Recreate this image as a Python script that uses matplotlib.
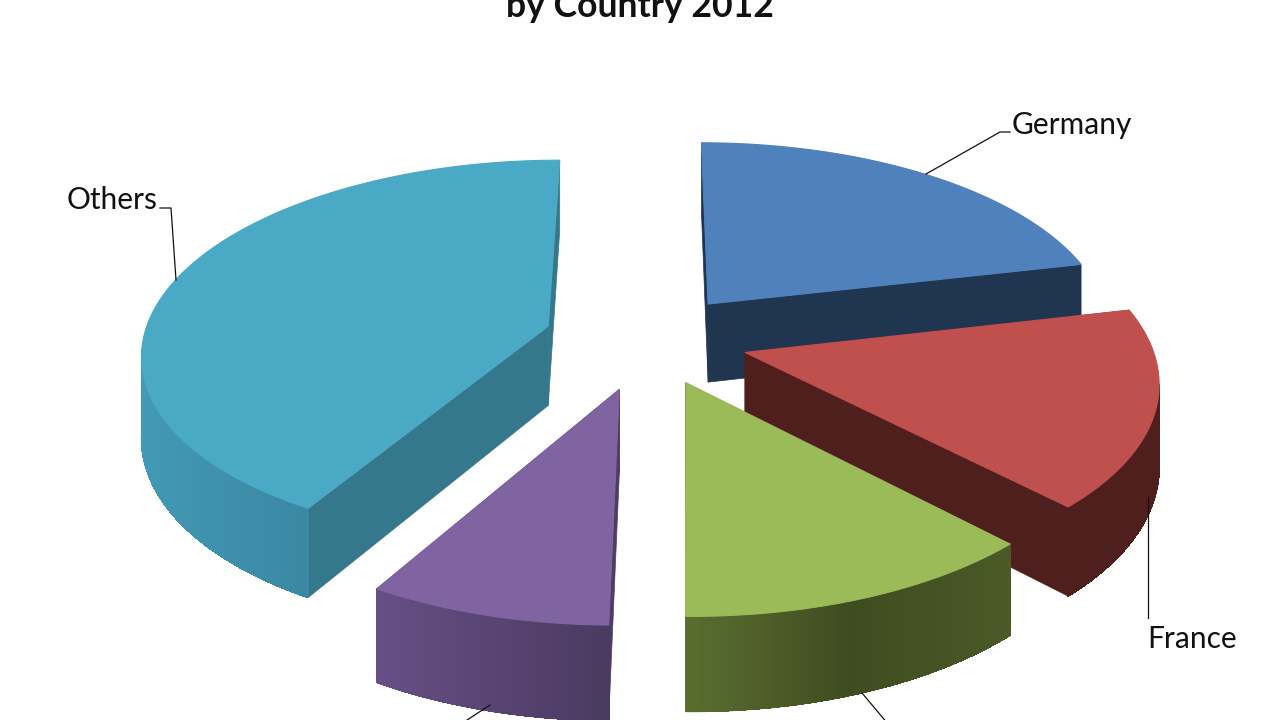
import numpy as np
import matplotlib
matplotlib.use("Agg")
import matplotlib.pyplot as plt
from matplotlib.collections import LineCollection, PolyCollection

# --- slices (share of the full circle, %) ---
labels = ["Germany", "France", "", "", "Others"]
shares = [21.4, 16.4, 12.4, 8.2, 41.6]
top_colors = ["#4f81bd", "#c0504d", "#9bbb59", "#8064a2", "#4aa9c5"]
inner_colors = ["#1f3550", "#4f1f1d", "#3f4c22", "#4f3c65", "#35788c"]
explode = [0.24, 0.245, 0.24, 0.265, 0.26]

# outer wall colour stops, by screen x
wall_x = [
    [700, 1100],
    [740, 1160],
    [684, 850, 1014],
    [376, 608],
    [140, 230, 316],
]
wall_rgb = [
    ["#1f3550", "#1f3550"],
    ["#4f1f1d", "#4f1f1d"],
    ["#5a6e30", "#3f4c20", "#4a5a28"],
    ["#664f85", "#4a3a60"],
    ["#429ab5", "#3e8fab", "#3a87a2"],
]

# --- projection of the tilted pie ---
CX, CY = 649, 339
RX, RY = 405, 190.7
PERSP = 0.13
DEPTH = 80
START = 0.0
draw_order = [0, 4, 1, 3, 2]


def project(wx, wy, z=0.0):
    s = 1.0 / (1.0 + PERSP * wy)
    return CX + RX * wx * s, CY - RY * wy * s + DEPTH * z * s


def wall_color(i, x):
    stops = np.array([matplotlib.colors.to_rgb(c) for c in wall_rgb[i]])
    return [np.interp(x, wall_x[i], stops[:, k]) for k in range(3)]


fig = plt.figure(figsize=(12.8, 7.2), dpi=100)
ax = fig.add_axes([0, 0, 1, 1])
ax.set_xlim(0, 1280)
ax.set_ylim(720, 0)
ax.axis("off")

edges = START + np.cumsum([0] + shares) * 3.6

for i in draw_order:
    a0, a1 = np.radians(edges[i]), np.radians(edges[i + 1])
    mid = (a0 + a1) / 2
    ox, oy = explode[i] * np.sin(mid), explode[i] * np.cos(mid)
    t = np.linspace(a0, a1, 240)
    wx, wy = ox + np.sin(t), oy + np.cos(t)

    # radial walls
    for a in (a0, a1):
        ex, ey = ox + np.sin(a), oy + np.cos(a)
        p = [project(ox, oy), project(ex, ey), project(ex, ey, 1), project(ox, oy, 1)]
        ax.fill(*zip(*p), color=inner_colors[i], lw=0.5)

    # outer wall, only the part facing the viewer
    xt, yt = project(wx, wy)
    xb, yb = project(wx, wy, 1)
    quads, cols, segs = [], [], []
    for j in range(len(t) - 1):
        if xt[j + 1] >= xt[j]:
            continue
        quads.append([(xt[j], yt[j]), (xt[j + 1], yt[j + 1]), (xb[j + 1], yb[j + 1]), (xb[j], yb[j])])
        cols.append(wall_color(i, (xt[j] + xt[j + 1]) / 2))
        segs.append([(xb[j], yb[j]), (xb[j + 1], yb[j + 1])])
    if quads:
        ax.add_collection(PolyCollection(quads, facecolors=cols, edgecolors=cols,
                                         linewidths=0.5, antialiaseds=False))
        ax.add_collection(LineCollection(segs, colors=cols, linewidths=1.0))

    # top face
    ax0, ay0 = project(ox, oy)
    ax.fill(np.r_[ax0, xt], np.r_[ay0, yt], color=top_colors[i], lw=0.8)

# --- leader lines and text ---
leaders = [
    ([926, 1000, 1010], [174, 132, 132]),
    ([1148, 1148], [497, 618]),
    ([176, 171, 160], [280, 208, 208]),
    ([490, 464], [705, 722]),
    ([862, 888], [693, 724]),
]
for lx, ly in leaders:
    ax.plot(lx, ly, color="#111111", lw=0.9, zorder=5, clip_on=False)

label_font = dict(fontsize=21.5, family="Lato", ha="left", va="baseline", color="#111111")
ax.text(1012, 134, labels[0], **label_font)
ax.text(1147, 648, labels[1], **label_font)
ax.text(67, 209, labels[4], **label_font)
ax.text(640, 17, "by Country 2012", fontsize=25.7, family="Lato", weight="bold",
        ha="center", va="baseline", color="#111111")

fig.savefig("out.png", dpi=100)
